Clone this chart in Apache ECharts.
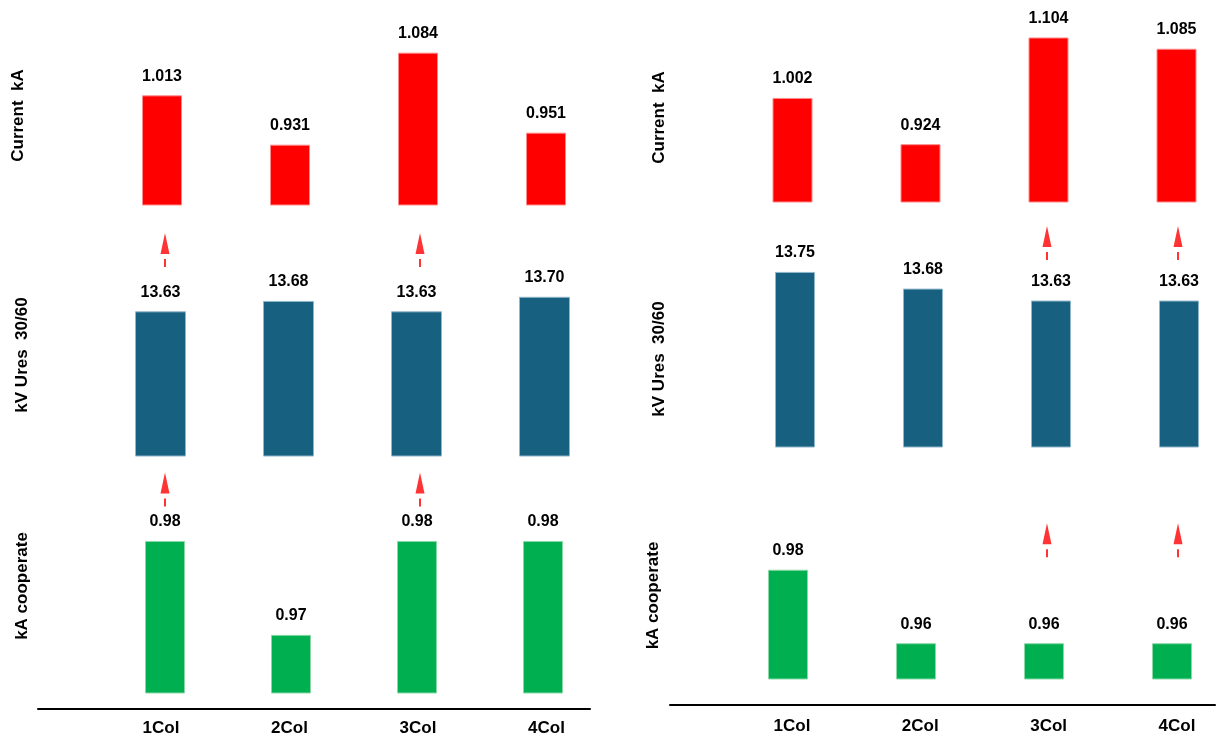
<!DOCTYPE html>
<html>
<head>
<meta charset="utf-8">
<script src="https://cdn.jsdelivr.net/npm/echarts@6/dist/echarts.min.js"></script>
<style>
html,body{margin:0;padding:0;background:#fff;}
#chart{width:1225px;height:751px;}
</style>
</head>
<body>
<div id="chart"></div>
<script>
// ---------- data ----------
const categories = ['1Col', '2Col', '3Col', '4Col'];
const leftCurrentKA = [1.013, 0.931, 1.084, 0.951];
const leftKvUres = [13.63, 13.68, 13.63, 13.70];
const leftKaCooperate = [0.98, 0.97, 0.98, 0.98];
const rightCurrentKA = [1.002, 0.924, 1.104, 1.085];
const rightKvUres = [13.75, 13.68, 13.63, 13.63];
const rightKaCooperate = [0.98, 0.96, 0.96, 0.96];
const leftArrowCols = ['1Col', '3Col'];
const rightArrowCols = ['3Col', '4Col'];
const rowTitles = ['Current  kA', 'kV Ures  30/60', 'kA cooperate'];

// ---------- styling ----------
const FONT = '"Liberation Sans", Arial, sans-serif';
const RED = '#ff0000', BLUE = '#17607f', GREEN = '#00b050';
const ARROW = 'path://M4.5,0 L9,21 L0,21 Z M3.5,26 L5.5,26 L5.5,34 L3.5,34 Z';

const grid = [], xAxis = [], yAxis = [], series = [];

function addGrid(g, xa, ya) {
  grid.push(Object.assign({ containLabel: false, outerBoundsMode: 'none' }, g));
  const i = grid.length - 1;
  xAxis.push(Object.assign({ gridIndex: i, show: false }, xa));
  yAxis.push(Object.assign({ gridIndex: i, show: false }, ya));
  return i;
}

function catAxis(extra) {
  return Object.assign({ type: 'category', data: categories, boundaryGap: true }, extra || {});
}

function barRow(g, min, max, values, color, border, bw, dec) {
  const i = addGrid(g, catAxis(), { type: 'value', min: min, max: max });
  series.push({
    type: 'bar', xAxisIndex: i, yAxisIndex: i, data: values, barWidth: bw,
    itemStyle: { color: color, borderColor: border, borderWidth: 1 },
    label: {
      show: true, position: 'top', distance: 11,
      formatter: p => Number(p.value).toFixed(dec),
      fontFamily: FONT, fontWeight: 'bold', fontSize: 16, color: '#000'
    }
  });
}

function arrowRow(g, cols) {
  const i = addGrid(g, catAxis(), { type: 'value', min: -1, max: 1 });
  series.push({
    type: 'scatter', xAxisIndex: i, yAxisIndex: i,
    data: cols.map(c => [c, 0]),
    symbol: ARROW, symbolSize: [9, 34],
    itemStyle: { color: RED }
  });
}

function labelRow(g) {
  addGrid(g, catAxis({
    show: true, position: 'bottom',
    axisLine: { show: false }, axisTick: { show: false },
    axisLabel: { margin: 8, fontFamily: FONT, fontWeight: 'bold', fontSize: 17, color: '#000' }
  }), { type: 'value' });
}

function lineRow(g) {
  addGrid(g, {
    type: 'value', min: 0, max: 1, show: true, position: 'bottom',
    axisLine: { show: true, lineStyle: { color: '#000', width: 2 } },
    axisTick: { show: false }, axisLabel: { show: false }, splitLine: { show: false }
  }, { type: 'value' });
}

// left panel
barRow({ left: 98, width: 512, top: 31, height: 174 }, 0.8307, 1.12, leftCurrentKA, RED, '#ff8a8a', 40, 3);
barRow({ left: 96.5, width: 512, top: 276, height: 180 }, 12.934, 13.8, leftKvUres, BLUE, '#8fb6c9', 51, 2);
barRow({ left: 102, width: 504, top: 494, height: 199 }, 0.96381, 0.985, leftKaCooperate, GREEN, '#8ad8a8', 40, 2);
// right panel
barRow({ left: 728.5, width: 512, top: 28, height: 174 }, 0.8265, 1.12, rightCurrentKA, RED, '#ff8a8a', 40, 3);
barRow({ left: 731, width: 512, top: 260, height: 187 }, 13.016, 13.8, rightKvUres, BLUE, '#8fb6c9', 40, 2);
barRow({ left: 724, width: 512, top: 533, height: 146 }, 0.95026, 0.99, rightKaCooperate, GREEN, '#8ad8a8', 40, 2);
// arrows
arrowRow({ left: 101.25, width: 510, top: 230, height: 40 }, leftArrowCols);
arrowRow({ left: 101.25, width: 510, top: 469.5, height: 40 }, leftArrowCols);
arrowRow({ left: 719.5, width: 524, top: 223, height: 40 }, rightArrowCols);
arrowRow({ left: 719.5, width: 524, top: 520.3, height: 40 }, rightArrowCols);
// category labels
labelRow({ left: 96.75, width: 514, top: 711, height: 1 });
labelRow({ left: 727.8, width: 513.3, top: 709, height: 1 });
// baseline axis lines
lineRow({ left: 38, width: 552, top: 700, height: 9 });
lineRow({ left: 670, width: 545, top: 696, height: 9 });

// row titles
const titlePos = [
  [18.5, 115.5], [22.5, 355], [22.5, 586],
  [659, 117.5], [659, 359], [653, 595.5]
];
const graphic = titlePos.map((p, k) => ({
  type: 'text', x: p[0], y: p[1], rotation: Math.PI / 2, silent: true,
  style: {
    text: rowTitles[k % 3], fill: '#000', align: 'center', verticalAlign: 'middle',
    font: 'bold 17px ' + FONT
  }
}));

const chart = echarts.init(document.getElementById('chart'), null, { renderer: 'canvas' });
chart.setOption({
  animation: false,
  backgroundColor: '#fff',
  grid: grid, xAxis: xAxis, yAxis: yAxis, series: series, graphic: graphic
});
</script>
</body>
</html>
